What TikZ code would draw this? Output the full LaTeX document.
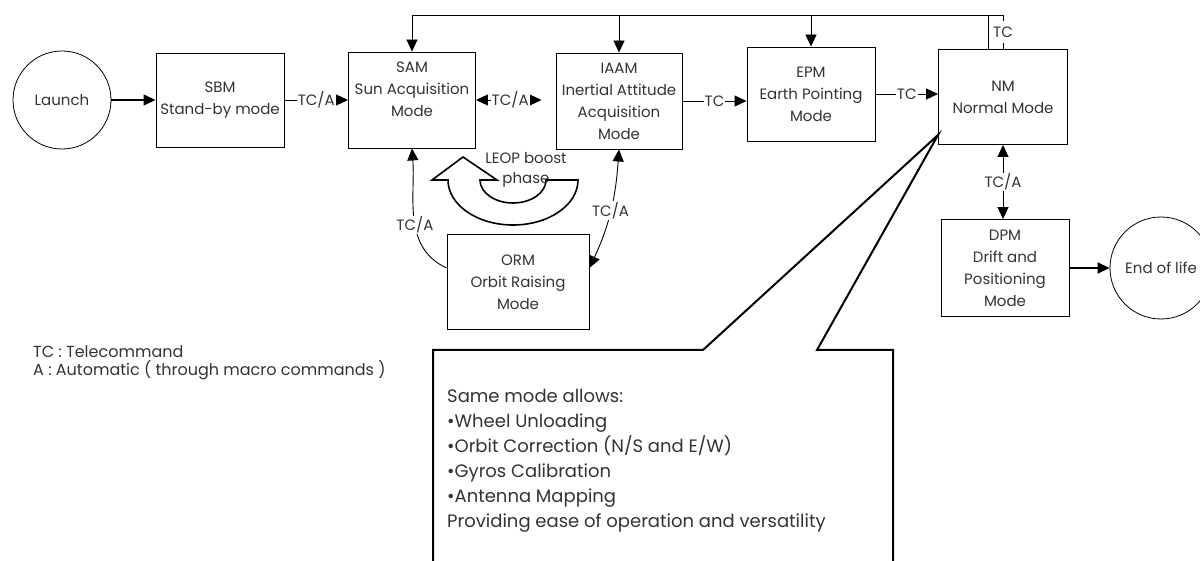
\documentclass[tikz,border=0pt]{standalone}
\usepackage{fontspec}
\setmainfont{Poppins}
\usetikzlibrary{arrows.meta}

\begin{document}
\begin{tikzpicture}[x=1pt, y=-1pt,
		>={Triangle[length=12pt,width=11pt]},
		mode/.style={draw, line width=0.9pt, align=center, inner sep=0pt, text=black!80, font=\fontsize{15}{22}\selectfont},
		endpt/.style={draw, circle, line width=0.8pt, minimum size=98pt, inner sep=0pt, text=black!80, font=\fontsize{15}{18}\selectfont},
		lbl/.style={fill=white, inner sep=1pt, text=black!80, font=\fontsize{15}{18}\selectfont},
		link/.style={line width=0.9pt}]
		\useasboundingbox (0,0) rectangle (1200,561);
		
		% modes
		\node (launch) [endpt] at (62,100) {Launch};
		\node (sbm) [mode, minimum width=128pt, minimum height=94pt] at (220,100) {SBM\\Stand-by mode};
		\node (sam) [mode, minimum width=127pt, minimum height=96pt] at (412,100) {SAM\\Sun Acquisition\\Mode\\~};
		\node (iaam) [mode, minimum width=126pt, minimum height=96pt] at (619,101) {IAAM\\Inertial Attitude\\Acquisition\\Mode};
		\node (epm) [mode, minimum width=128pt, minimum height=94pt] at (811,94) {EPM\\Earth Pointing\\Mode};
		\node (nm) [mode, minimum width=129pt, minimum height=95pt] at (1003,97) {NM\\Normal Mode};
		\node (orm) [mode, minimum width=142pt, minimum height=95pt] at (518,282) {ORM\\Orbit Raising\\Mode};
		\node (dpm) [mode, minimum width=128pt, minimum height=97pt] at (1005,268) {DPM\\Drift and\\Positioning\\Mode};
		\node (eol) [endpt, minimum size=102pt] at (1161,268) {End of life};
		
		% main sequence
		\draw[->, line width=1.2pt] (launch) -- (sbm);
		\draw[->, link] (sbm) -- (sam) node [lbl, midway] {TC/A};
		\draw[<->, link, shorten >=14pt] (sam.east) -- (sam.east -| iaam.west) node [lbl, pos=0.43] {TC/A};
		\draw[->, link] (iaam.east) -- (iaam.east -| epm.west) node [lbl, midway] {TC};
		\draw[->, link] (epm.east) -- (epm.east -| nm.west) node [lbl, midway] {TC};
		
		% return line on top
		\coordinate (bus) at (0,15);
		\draw[->, link] (nm.north) -- (nm.north |- bus) node [lbl, midway, inner ysep=6pt] {TC} -| (sam.north);
		\draw[link] ([xshift=-15pt]nm.north) -- ([xshift=-15pt]nm.north |- bus);
		\draw[->, link] (iaam.north |- bus) -- (iaam.north);
		\draw[->, link] (epm.north |- bus) -- (epm.north);
		
		% orbit raising
		\draw[->, link] ([yshift=14pt]orm.west) to [out=155, in=-86] node [lbl, pos=0.45] {TC/A} (sam.south);
		\draw[<->, link] (iaam.south) to [out=-94, in=65] node [lbl, pos=0.5] {TC/A} ([yshift=14pt]orm.east);
		
		% LEOP boost phase arrow
		\draw[line width=1.6pt, fill=white] (432,180) -- (463,157) -- (497,180) -- (480,180)
			arc [start angle=180, end angle=360, x radius=33pt, y radius=23pt] -- (578,180)
			arc [start angle=0, end angle=-180, x radius=65pt, y radius=45pt] -- cycle;
		\node (leop) [align=center, text=black!80, font=\fontsize{15}{20}\selectfont] at (526,170) {LEOP boost\\phase};
		
		% end of life
		\draw[<->, link] (nm.south) -- (nm.south |- dpm.north) node [lbl, midway] {TC/A};
		\draw[->, line width=1.4pt] (dpm) -- (eol);
		
		% legend
		\node (legend) [anchor=north west, align=left, inner sep=0pt, text=black!80, font=\fontsize{16}{18}\selectfont] at (33,345) {TC : Telecommand\\A : Automatic ( through macro commands )};
		
		% callout
		\coordinate (tip) at ([yshift=10pt]nm.south west);
		\draw[line width=2pt] (433,575) -- (433,350) -- (703,350) -- (tip) -- (817,350) -- (893,350) -- (893,575);
		\node (note) [anchor=north west, align=left, inner sep=0pt, text=black!80, font=\fontsize{18}{25}\selectfont] at (447,389) {Same mode allows:\\\textbullet Wheel Unloading\\\textbullet Orbit Correction (N/S and E/W)\\\textbullet Gyros Calibration\\\textbullet Antenna Mapping\\Providing ease of operation and versatility};
		
	\end{tikzpicture}
\end{document}
